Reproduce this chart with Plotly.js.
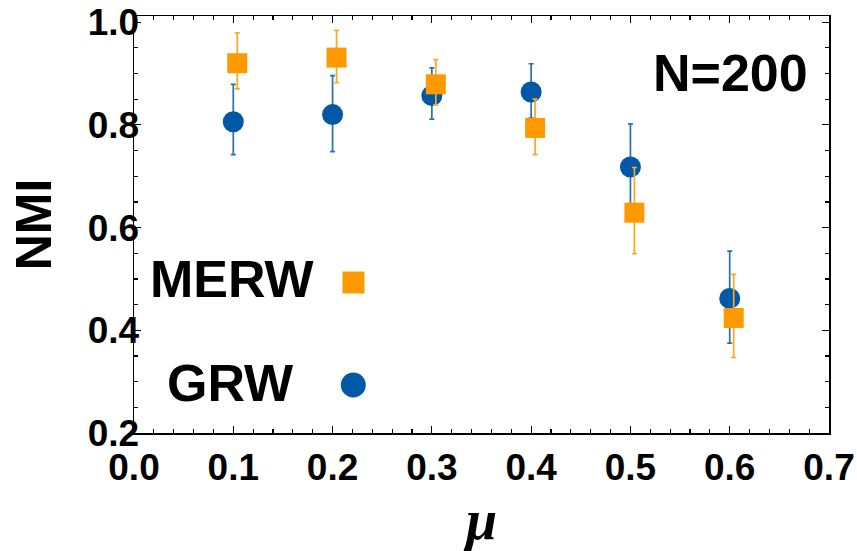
<!DOCTYPE html>
<html>
<head>
<meta charset="utf-8">
<script src="https://cdn.plot.ly/plotly-3.0.1.min.js"></script>
<style>html,body{margin:0;padding:0;background:#fff;}#chart{width:857px;height:551px;}</style>
</head>
<body>
<div id="chart"></div>
<script>
// ---- data ----
const muGRW = [0.1, 0.2, 0.3, 0.4, 0.5, 0.6];
const nmiGRW = [0.806, 0.820, 0.857, 0.864, 0.718, 0.462];
const errPlusGRW = [0.073, 0.076, 0.054, 0.055, 0.084, 0.092];
const errMinusGRW = [0.064, 0.072, 0.046, 0.051, 0.084, 0.087];

const muMERW = [0.104, 0.204, 0.304, 0.404, 0.504, 0.604];
const nmiMERW = [0.920, 0.931, 0.879, 0.794, 0.629, 0.424];
const errPlusMERW = [0.059, 0.053, 0.048, 0.056, 0.088, 0.085];
const errMinusMERW = [0.050, 0.049, 0.040, 0.052, 0.080, 0.077];

const xTickVals = [0.0, 0.1, 0.2, 0.3, 0.4, 0.5, 0.6, 0.7];
const xTickText = ['0.0', '0.1', '0.2', '0.3', '0.4', '0.5', '0.6', '0.7'];
const yTickVals = [0.2, 0.4, 0.6, 0.8, 1.0];
const yTickText = ['0.2', '0.4', '0.6', '0.8', '1.0'];

const seriesNames = ['GRW', 'MERW'];
const annotationText = 'N=200';

// ---- styles ----
const blue = '#0058a6';
const blueBar = '#2a6fb3';
const orange = '#ff9900';
const orangeBar = '#ffa622';
const W = 857, H = 551;
const M = {l: 134, r: 28, t: 16, b: 118};
const pw = W - M.l - M.r, ph = H - M.t - M.b;
const px = v => (v - M.l) / pw;
const py = v => (H - M.b - v) / ph;
const bold = 'Liberation Sans, Arial, sans-serif';

const traces = [
  {
    type: 'scatter', mode: 'markers', name: seriesNames[0],
    x: muGRW, y: nmiGRW,
    marker: {symbol: 'circle', size: 21, color: blue, line: {width: 0}},
    error_y: {type: 'data', symmetric: false, array: errPlusGRW, arrayminus: errMinusGRW,
              color: blueBar, thickness: 1.7, width: 2.5},
    showlegend: false, cliponaxis: false
  },
  {
    type: 'scatter', mode: 'markers', name: seriesNames[1],
    x: muMERW, y: nmiMERW,
    marker: {symbol: 'square', size: 20, color: orange, line: {width: 0}},
    error_y: {type: 'data', symmetric: false, array: errPlusMERW, arrayminus: errMinusMERW,
              color: orangeBar, thickness: 1.7, width: 2.5},
    showlegend: false, cliponaxis: false
  }
];

const axisCommon = {
  showgrid: false, zeroline: false,
  showline: true, linecolor: '#000', linewidth: 1.5, mirror: 'allticks',
  ticks: 'inside', ticklen: 7, tickwidth: 1.2, tickcolor: '#000',
  tickfont: {family: bold, size: 37, color: '#000', weight: 'bold'}
};

const layout = {
  width: W, height: H,
  margin: M,
  paper_bgcolor: '#fff', plot_bgcolor: '#fff',
  showlegend: false,
  xaxis: Object.assign({}, axisCommon, {
    range: [0, 0.7], tickmode: 'array', tickvals: xTickVals, ticktext: xTickText,
    minor: {dtick: 0.02, ticks: 'inside', ticklen: 4, tickwidth: 1.2, tickcolor: '#000', showgrid: false},
    ticklabelstandoff: 1,
    title: {text: '<i>μ</i>', font: {family: 'Liberation Serif, Times New Roman, serif', size: 56, color: '#000', weight: 'bold'}, standoff: 18}
  }),
  yaxis: Object.assign({}, axisCommon, {
    range: [0.2, 1.012], tickmode: 'array', tickvals: yTickVals, ticktext: yTickText,
    minor: {dtick: 0.05, ticks: 'inside', ticklen: 4, tickwidth: 1.2, tickcolor: '#000', showgrid: false},
    ticklabelstandoff: -14,
    title: {text: 'NMI', font: {family: bold, size: 50, color: '#000', weight: 'bold'}, standoff: 20}
  }),
  annotations: [
    {xref: 'paper', yref: 'paper', x: px(810), y: py(72.5), xanchor: 'right', yanchor: 'middle',
     text: annotationText, showarrow: false, font: {family: bold, size: 52, color: '#000', weight: 'bold'}},
    {xref: 'paper', yref: 'paper', x: px(317), y: py(279), xanchor: 'right', yanchor: 'middle',
     text: seriesNames[1], showarrow: false, font: {family: bold, size: 52, color: '#000', weight: 'bold'}},
    {xref: 'paper', yref: 'paper', x: px(296), y: py(382.5), xanchor: 'right', yanchor: 'middle',
     text: seriesNames[0], showarrow: false, font: {family: bold, size: 52, color: '#000', weight: 'bold'}}
  ],
  shapes: [
    {type: 'rect', xref: 'paper', yref: 'paper', xsizemode: 'pixel', ysizemode: 'pixel',
     xanchor: px(353.5), yanchor: py(282.5), x0: -11, x1: 11, y0: -11, y1: 11,
     fillcolor: orange, line: {width: 0}},
    {type: 'circle', xref: 'paper', yref: 'paper', xsizemode: 'pixel', ysizemode: 'pixel',
     xanchor: px(353.3), yanchor: py(385), x0: -12.5, x1: 12.5, y0: -12.5, y1: 12.5,
     fillcolor: blue, line: {width: 0}}
  ]
};

Plotly.newPlot('chart', traces, layout, {displayModeBar: false, staticPlot: true});
</script>
</body>
</html>
